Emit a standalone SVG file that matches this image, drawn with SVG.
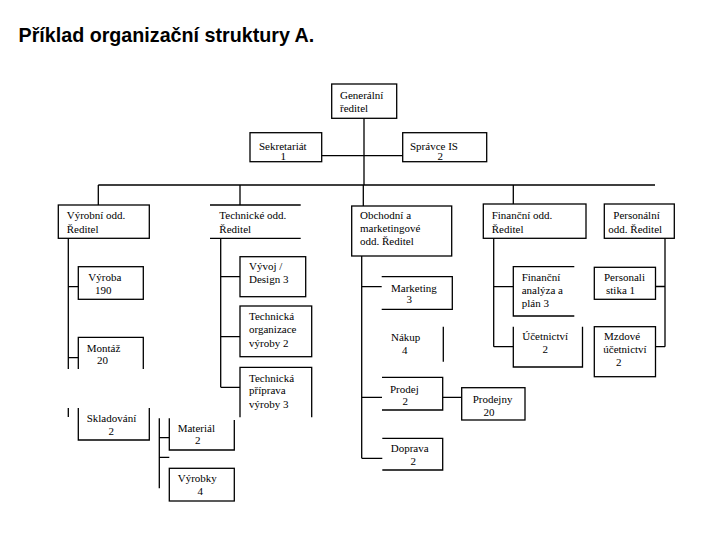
<svg xmlns="http://www.w3.org/2000/svg" width="720" height="540" viewBox="0 0 720 540">
<style>
.b{fill:none;stroke:#000;stroke-width:1.3}
.c{fill:none;stroke:#000;stroke-width:1.3}
text{font-family:"Liberation Serif","Times New Roman",serif;font-size:11px;fill:#000}
.t{font-family:"Liberation Sans",Arial,sans-serif;font-size:19.7px;font-weight:bold}
</style>
<rect width="720" height="540" fill="#fff"/>
<text class="t" x="18.5" y="41.5">Příklad organizační struktury A.</text>

<g id="connectors">
<path class="c" d="M364,118.3V185M321.7,155.7H402.7"/>
<path class="c" d="M98.3,185H655M98.3,185V205M240,185V205M363.3,185V206M513.3,185V204"/>
<path class="c" d="M68.3,238.3V369M68.3,408V417M68.3,286.7H78.3M68.3,357.7H78.3"/>
<path class="c" d="M220.7,238.3V387.3M220.7,276.7H240M220.7,336.7H240M220.7,387.3H240"/>
<path class="c" d="M361.7,256V458.3M361.7,286.7H381.7M361.7,397.3H382M361.7,458.3H382.3M442.7,397.3H461.7"/>
<path class="c" d="M493.7,238.3V346.7M493.7,286.7H513.3M493.7,346.7H513.3"/>
<path class="c" d="M665,238.3V346.7M655.5,286.5H665M655.5,346.7H665"/>
<path class="c" d="M159.3,418.3V488.3M159.3,437.7H169.3M159.3,457.3H169.3"/>
</g>

<g id="n-generalni"><rect class="b" x="331.7" y="84" width="65" height="34.3"/><text x="340" y="99">Generální</text><text x="340" y="112">ředitel</text></g>
<g id="n-sekretariat"><rect class="b" x="250" y="132.7" width="71.7" height="29"/><text x="259" y="149.5">Sekretariát</text><text x="280.5" y="160">1</text></g>
<g id="n-spravce"><rect class="b" x="402.7" y="132.7" width="84" height="29"/><text x="410" y="149.5">Správce IS</text><text x="437.5" y="160">2</text></g>

<g id="n-vyrobni"><rect class="b" x="58.3" y="205" width="91" height="33.3"/><text x="66.7" y="219">Výrobní odd.</text><text x="66.7" y="233">Ředitel</text></g>
<g id="n-technicke"><path class="b" d="M210,205H300.7M210,238.3H300.7"/><text x="219.3" y="219">Technické odd.</text><text x="219.3" y="233">Ředitel</text></g>
<g id="n-obchodni"><rect class="b" x="351.7" y="206" width="100" height="50"/><text x="360" y="219">Obchodní a</text><text x="360" y="232">marketingové</text><text x="360" y="245">odd.  Ředitel</text></g>
<g id="n-financni"><rect class="b" x="483.3" y="204" width="102.7" height="34.3"/><text x="491.7" y="219">Finanční odd.</text><text x="491.7" y="233">Ředitel</text></g>
<g id="n-personalni"><rect class="b" x="604.3" y="204" width="70" height="34.3"/><text x="613.3" y="219">Personální</text><text x="608.3" y="233">odd. Ředitel</text></g>

<g id="n-vyroba"><rect class="b" x="78.3" y="266.7" width="65" height="32.6"/><text x="88.3" y="281">Výroba</text><text x="95" y="293.5">190</text></g>
<g id="n-montaz"><path class="b" d="M78.3,369V337.3H143.3V369"/><text x="86.7" y="351.7">Montáž</text><text x="97" y="364.3">20</text></g>
<g id="n-skladovani"><path class="b" d="M78.3,408V440H149.3V408"/><text x="86.7" y="422.3">Skladování</text><text x="108.5" y="435">2</text></g>
<g id="n-material"><path class="b" d="M169.3,418.3V450H234.3V420"/><text x="177.7" y="432.3">Materiál</text><text x="195" y="443.5">2</text></g>
<g id="n-vyrobky"><rect class="b" x="169.3" y="468.3" width="65" height="32.7"/><text x="177.7" y="482.3">Výrobky</text><text x="197.5" y="495">4</text></g>

<g id="n-vyvoj"><rect class="b" x="240" y="256.7" width="65.7" height="40"/><text x="249" y="270">Vývoj /</text><text x="249" y="283.3">Design 3</text></g>
<g id="n-techorg"><rect class="b" x="240" y="306" width="71.7" height="50.7"/><text x="249" y="320">Technická</text><text x="249" y="333.3">organizace</text><text x="249" y="346.7">výroby 2</text></g>
<g id="n-techprip"><path class="b" d="M240,417.3V367.3H311.7V417.3"/><text x="249" y="381.7">Technická</text><text x="249" y="394.3">příprava</text><text x="249" y="407.7">výroby 3</text></g>

<g id="n-marketing"><path class="b" d="M381.7,276.7H452.3V309.3H381.7"/><text x="391" y="291.7">Marketing</text><text x="406.5" y="303.3">3</text></g>
<g id="n-nakup"><path class="b" d="M443.3,326.7V361.7"/><text x="391" y="341">Nákup</text><text x="402" y="354">4</text></g>
<g id="n-prodej"><path class="b" d="M382,377.3H442.7V410H382"/><text x="390" y="392.7">Prodej</text><text x="402.5" y="405">2</text></g>
<g id="n-prodejny"><rect class="b" x="461.7" y="387.7" width="63.3" height="32.3"/><text x="472.7" y="403.3">Prodejny</text><text x="483.5" y="416">20</text></g>
<g id="n-doprava"><path class="b" d="M382.3,438.3H442.7V470H382.3"/><text x="390.7" y="452">Doprava</text><text x="410.5" y="465">2</text></g>

<g id="n-finanalyza"><path class="b" d="M574.3,266.7H513.3V316H574.3"/><text x="521.7" y="281">Finanční</text><text x="521.7" y="294.3">analýza a</text><text x="521.7" y="306.7">plán  3</text></g>
<g id="n-ucetnictvi"><path class="b" d="M513.3,326.7V367H582.5V326.7"/><text x="522.3" y="340">Účetnictví</text><text x="542.5" y="353.3">2</text></g>
<g id="n-personalistika"><rect class="b" x="594.3" y="267.3" width="61.2" height="32"/><text x="604" y="281">Personali</text><text x="606" y="294.3">stika  1</text></g>
<g id="n-mzdove"><rect class="b" x="594.3" y="326.7" width="61.2" height="50"/><text x="604" y="340">Mzdové</text><text x="603.3" y="353.3">účetnictví</text><text x="616" y="366">2</text></g>
</svg>
